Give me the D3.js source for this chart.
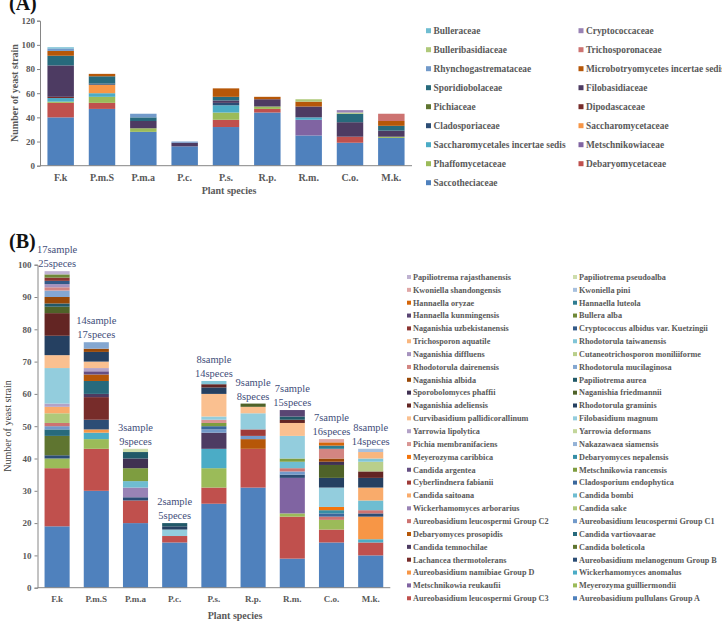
<!DOCTYPE html>
<html>
<head>
<meta charset="utf-8">
<script src="https://cdn.jsdelivr.net/npm/d3@7/dist/d3.min.js"></script>
<style>
  body { margin: 0; background: #fff; }
  text { font-family: "Liberation Serif", "Times New Roman", serif; }
</style>
</head>
<body>
<div id="chart"></div>
<script>
// plants on the x axis (same for both panels)
var plants = ["F.k", "P.m.S", "P.m.a", "P.c.", "P.s.", "R.p.", "R.m.", "C.o.", "M.k."];

// panel A: families, stacking order bottom -> top (index 1..17)
var familiesA = ["Saccotheciaceae", "Debaryomycetaceae", "Phaffomycetaceae", "Metschnikowiaceae",
  "Saccharomycetales incertae sedis", "Saccharomycetaceae", "Cladosporiaceae", "Dipodascaceae",
  "Pichiaceae", "Filobasidiaceae", "Sporidiobolaceae", "Microbotryomycetes incertae sedis",
  "Rhynchogastremataceae", "Trichosporonaceae", "Bulleribasidiaceae", "Cryptococcaceae", "Bulleraceae"];

// [family index, number of strains] for each plant
var aFk  = [[1,40],[2,12],[3,1],[5,3],[8,1],[10,26],[11,8],[12,4],[13,2],[17,1]];
var aPmS = [[1,47],[2,5],[3,5],[5,3],[6,7],[7,1],[11,6],[12,2]];
var aPma = [[1,28],[3,3],[10,6],[11,3],[13,3]];
var aPc  = [[1,16],[10,3],[13,1]];
var aPs  = [[1,32],[2,6],[3,6],[5,6],[7,2],[10,2],[11,3],[12,7]];
var aRp  = [[1,44],[2,3],[3,2],[10,6],[12,2]];
var aRm  = [[1,25],[4,13],[5,2],[10,9],[12,4],[15,2]];
var aCo  = [[1,19],[2,5],[10,12],[11,7],[15,1],[16,2]];
var aMk  = [[1,23],[3,1],[10,5],[11,4],[12,4],[14,6]];
var countsA = [aFk, aPmS, aPma, aPc, aPs, aRp, aRm, aCo, aMk];
var ticksA = [0, 20, 40, 60, 80, 100, 120];

// panel B: species, stacking order bottom -> top (index 1..52)
var speciesB = ["Aureobasidium pullulans Group A", "Aureobasidium leucospermi Group C3",
  "Meyerozyma guilliermondii", "Metschnikowia reukaufii", "Wickerhamomyces anomalus",
  "Aureobasidium namibiae Group D", "Aureobasidium melanogenum Group B", "Lachancea thermotolerans",
  "Candida boleticola", "Candida temnochilae", "Candida vartiovaarae", "Debaryomyces prosopidis",
  "Aureobasidium leucospermi Group C1", "Aureobasidium leucospermi Group C2", "Candida sake",
  "Wickerhamomyces arborarius", "Candida bombi", "Candida saitoana", "Cladosporium endophytica",
  "Cyberlindnera fabianii", "Metschnikowia rancensis", "Candida argentea", "Debaryomyces nepalensis",
  "Meyerozyma caribbica", "Nakazawaea siamensis", "Pichia membranifaciens", "Yarrowia deformans",
  "Yarrowia lipolytica", "Filobasidium magnum", "Curvibasidium pallidicorallinum",
  "Rhodotorula graminis", "Naganishia adeliensis", "Naganishia friedmannii", "Sporobolomyces phaffii",
  "Papiliotrema aurea", "Naganishia albida", "Rhodotorula mucilaginosa", "Rhodotorula dairenensis",
  "Cutaneotrichosporon moniliiforme", "Naganishia diffluens", "Rhodotorula taiwanensis",
  "Trichosporon aquatile", "Cryptococcus albidus var. Kuetzingii", "Naganishia uzbekistanensis",
  "Bullera alba", "Hannaella kunmingensis", "Hannaella luteola", "Hannaella oryzae",
  "Kwoniella pini", "Kwoniella shandongensis", "Papiliotrema pseudoalba", "Papiliotrema rajasthanensis"];

var bFk  = [[1,19],[2,18],[3,3],[7,1],[9,6],[11,2],[13,1],[14,1],[15,3],[18,2],[28,1],[29,11],[30,4],
            [31,6],[32,7],[33,2],[35,1],[36,2],[37,2],[38,1],[40,1],[43,1],[44,1],[45,1],[52,1]];
var bPmS = [[1,30],[2,13],[3,3],[5,2],[6,1],[7,3],[8,7],[10,1],[11,4],[12,2],[22,1],[28,1],[30,2],
            [31,3],[36,1],[37,2]];
var bPma = [[1,20],[2,7],[7,1],[16,3],[17,2],[21,4],[34,3],[35,2],[51,1]];
var bPc  = [[1,14],[2,2],[29,2],[31,1],[35,1]];
var bPs  = [[1,26],[2,5],[3,6],[5,6],[10,5],[13,1],[19,1],[21,1],[26,1],[29,1],[30,7],[31,2],[32,1],[41,1]];
var bRp  = [[1,31],[2,12],[12,3],[13,1],[20,2],[29,5],[30,2],[33,1]];
var bRm  = [[1,9],[2,13],[3,1],[4,11],[7,1],[13,1],[14,1],[17,2],[21,1],[29,7],[30,4],[32,1],[35,1],[46,2]];
var bCo  = [[1,14],[2,4],[3,3],[14,1],[19,1],[23,1],[24,1],[29,6],[31,3],[33,4],[34,1],[36,1],[38,3],
            [47,1],[48,1],[50,1]];
var bMk  = [[1,10],[2,4],[5,1],[6,7],[7,1],[14,1],[17,3],[18,4],[31,3],[32,2],[39,3],[41,1],[42,2],[49,1]];
var countsB = [bFk, bPmS, bPma, bPc, bPs, bRp, bRm, bCo, bMk];
var ticksB = [0, 10, 20, 30, 40, 50, 60, 70, 80, 90, 100];
var samplesB = ["17sample", "14sample", "3sample", "2sample", "8sample", "9sample", "7sample", "7sample", "8sample"];
var specesB  = ["25speces", "17speces", "9speces", "5speces", "14speces", "8speces", "15speces", "16speces", "14speces"];

// office style palette: 6 accents, then darker / lighter variants
var accents = ["#4F81BD", "#C0504D", "#9BBB59", "#8064A2", "#4BACC6", "#F79646"];
var lumMods = [[1,0],[0.6,0],[0.8,0.2],[0.8,0],[0.6,0.4],[0.5,0],[0.7,0.3],[0.7,0],[0.5,0.5]];
function seriesColor(k) { // k is 1-based
  var c = d3.hsl(accents[(k - 1) % 6]), m = lumMods[Math.floor((k - 1) / 6)];
  c.l = c.l * m[0] + m[1];
  return c.formatHex();
}

var grey = "#595959";

var svg = d3.select("#chart").append("svg")
  .attr("width", 722)
  .attr("height", 624)
  .style("background", "#fff");

function toRows(counts, n) {
  return counts.map(function(c) {
    var row = {};
    d3.range(1, n + 1).forEach(function(k) { row[k] = 0; });
    c.forEach(function(p) { row[p[0]] = p[1]; });
    return row;
  });
}

function drawBars(g, counts, n, x, y) {
  var layers = d3.stack().keys(d3.range(1, n + 1))(toRows(counts, n));
  layers.forEach(function(layer) {
    g.selectAll(null)
      .data(layer.map(function(d, i) { return {d: d, i: i}; }).filter(function(e) { return e.d[1] > e.d[0]; }))
      .enter().append("rect")
      .attr("x", function(e) { return x(plants[e.i]); })
      .attr("y", function(e) { return y(e.d[1]); })
      .attr("width", x.bandwidth())
      .attr("height", function(e) { return y(e.d[0]) - y(e.d[1]); })
      .attr("fill", seriesColor(layer.key));
  });
}

function styleAxis(g, size, weight) {
  g.select(".domain").attr("stroke", "#868686");
  g.selectAll(".tick line").attr("stroke", "#868686");
  g.selectAll(".tick text")
    .attr("fill", grey)
    .style("font-size", size + "px")
    .style("font-weight", weight)
    .style("font-family", "'Liberation Serif', serif");
}

// ---------------- panel A ----------------
var xA = d3.scaleBand().domain(plants).range([40, 412]).paddingInner(0.36).paddingOuter(0.18);
var yA = d3.scaleLinear().domain([0, 120]).range([165.7, 20.7]);

svg.append("text").attr("x", 9).attr("y", 10)
  .style("font-size", "20px").style("font-weight", "bold").attr("fill", "#111").text("(A)");

drawBars(svg.append("g"), countsA, familiesA.length, xA, yA);

var yAxA = svg.append("g").attr("transform", "translate(40,0)")
  .call(d3.axisLeft(yA).tickValues(ticksA).tickSize(3).tickPadding(2));
styleAxis(yAxA, 9, "bold");

svg.append("line").attr("x1", 40).attr("x2", 412).attr("y1", yA(0)).attr("y2", yA(0))
  .attr("stroke", "#868686");

svg.append("g").selectAll("text").data(plants).enter().append("text")
  .attr("x", function(d) { return xA(d) + xA.bandwidth() / 2; })
  .attr("y", 181)
  .attr("text-anchor", "middle")
  .attr("fill", grey)
  .style("font-size", "10px").style("font-weight", "bold")
  .text(function(d) { return d; });

svg.append("text").attr("x", 229).attr("y", 194).attr("text-anchor", "middle")
  .attr("fill", grey).style("font-size", "10px").style("font-weight", "bold").text("Plant species");

svg.append("text").attr("transform", "translate(18,93) rotate(-90)").attr("text-anchor", "middle")
  .attr("fill", grey).style("font-size", "10px").style("font-weight", "bold").text("Number of yeast strain");

// legend A (reverse order, two columns)
var legA = familiesA.map(function(f, i) { return {name: f, k: i + 1}; }).reverse();
var legAg = svg.append("g").selectAll("g").data(legA).enter().append("g")
  .attr("transform", function(d, i) {
    return "translate(" + (i % 2 ? 578.5 : 426) + "," + (30.7 + 19 * Math.floor(i / 2)) + ")";
  });
legAg.append("rect").attr("x", 0).attr("y", -2.5).attr("width", 5).attr("height", 5)
  .attr("fill", function(d) { return seriesColor(d.k); });
legAg.append("text").attr("x", 7.5).attr("y", 3.5)
  .attr("fill", grey).style("font-size", "9.4px").style("font-weight", "bold")
  .text(function(d) { return d.name; });

// ---------------- panel B ----------------
var xB = d3.scaleBand().domain(plants).range([37.5, 390.3]).paddingInner(0.36).paddingOuter(0.18);
var yB = d3.scaleLinear().domain([0, 100]).range([587.7, 264.7]);

svg.append("text").attr("x", 9).attr("y", 248)
  .style("font-size", "20px").style("font-weight", "bold").attr("fill", "#111").text("(B)");

drawBars(svg.append("g"), countsB, speciesB.length, xB, yB);

var yAxB = svg.append("g").attr("transform", "translate(37.5,0)")
  .call(d3.axisLeft(yB).tickValues(ticksB).tickSize(3).tickPadding(3));
styleAxis(yAxB, 9, "bold");

svg.append("line").attr("x1", 37.5).attr("x2", 390.3).attr("y1", yB(0)).attr("y2", yB(0))
  .attr("stroke", "#868686");

svg.append("g").selectAll("text").data(plants).enter().append("text")
  .attr("x", function(d) { return xB(d) + xB.bandwidth() / 2; })
  .attr("y", 602)
  .attr("text-anchor", "middle")
  .attr("fill", grey)
  .style("font-size", "9px").style("font-weight", "bold")
  .text(function(d) { return d; });

svg.append("text").attr("x", 235).attr("y", 619).attr("text-anchor", "middle")
  .attr("fill", grey).style("font-size", "10px").style("font-weight", "bold").text("Plant species");

svg.append("text").attr("transform", "translate(11,426) rotate(-90)").attr("text-anchor", "middle")
  .attr("fill", "#404040").style("font-size", "10px").text("Number of yeast strain");

// sample / species notes above the bars
var totalsB = countsB.map(function(c) { return d3.sum(c, function(p) { return p[1]; }); });
var notes = svg.append("g").selectAll("g").data(plants).enter().append("g")
  .attr("transform", function(d, i) {
    return "translate(" + (xB(d) + xB.bandwidth() / 2) + "," + yB(totalsB[i]) + ")";
  });
notes.append("text").attr("y", -18).attr("text-anchor", "middle").attr("fill", "#3F4E7A")
  .style("font-size", "10.5px").text(function(d, i) { return samplesB[i]; });
notes.append("text").attr("y", -4).attr("text-anchor", "middle").attr("fill", "#3F4E7A")
  .style("font-size", "10.5px").text(function(d, i) { return specesB[i]; });

// legend B (reverse order, two columns)
var legB = speciesB.map(function(s, i) { return {name: s, k: i + 1}; }).reverse();
var legBg = svg.append("g").selectAll("g").data(legB).enter().append("g")
  .attr("transform", function(d, i) {
    return "translate(" + (i % 2 ? 573 : 407) + "," + (277 + 12.85 * Math.floor(i / 2)) + ")";
  });
legBg.append("rect").attr("x", 0).attr("y", -2).attr("width", 4).attr("height", 4)
  .attr("fill", function(d) { return seriesColor(d.k); });
legBg.append("text").attr("x", 6).attr("y", 2.8)
  .attr("fill", grey).style("font-size", "8.2px").style("font-weight", "bold")
  .text(function(d) { return d.name; });
</script>
</body>
</html>
